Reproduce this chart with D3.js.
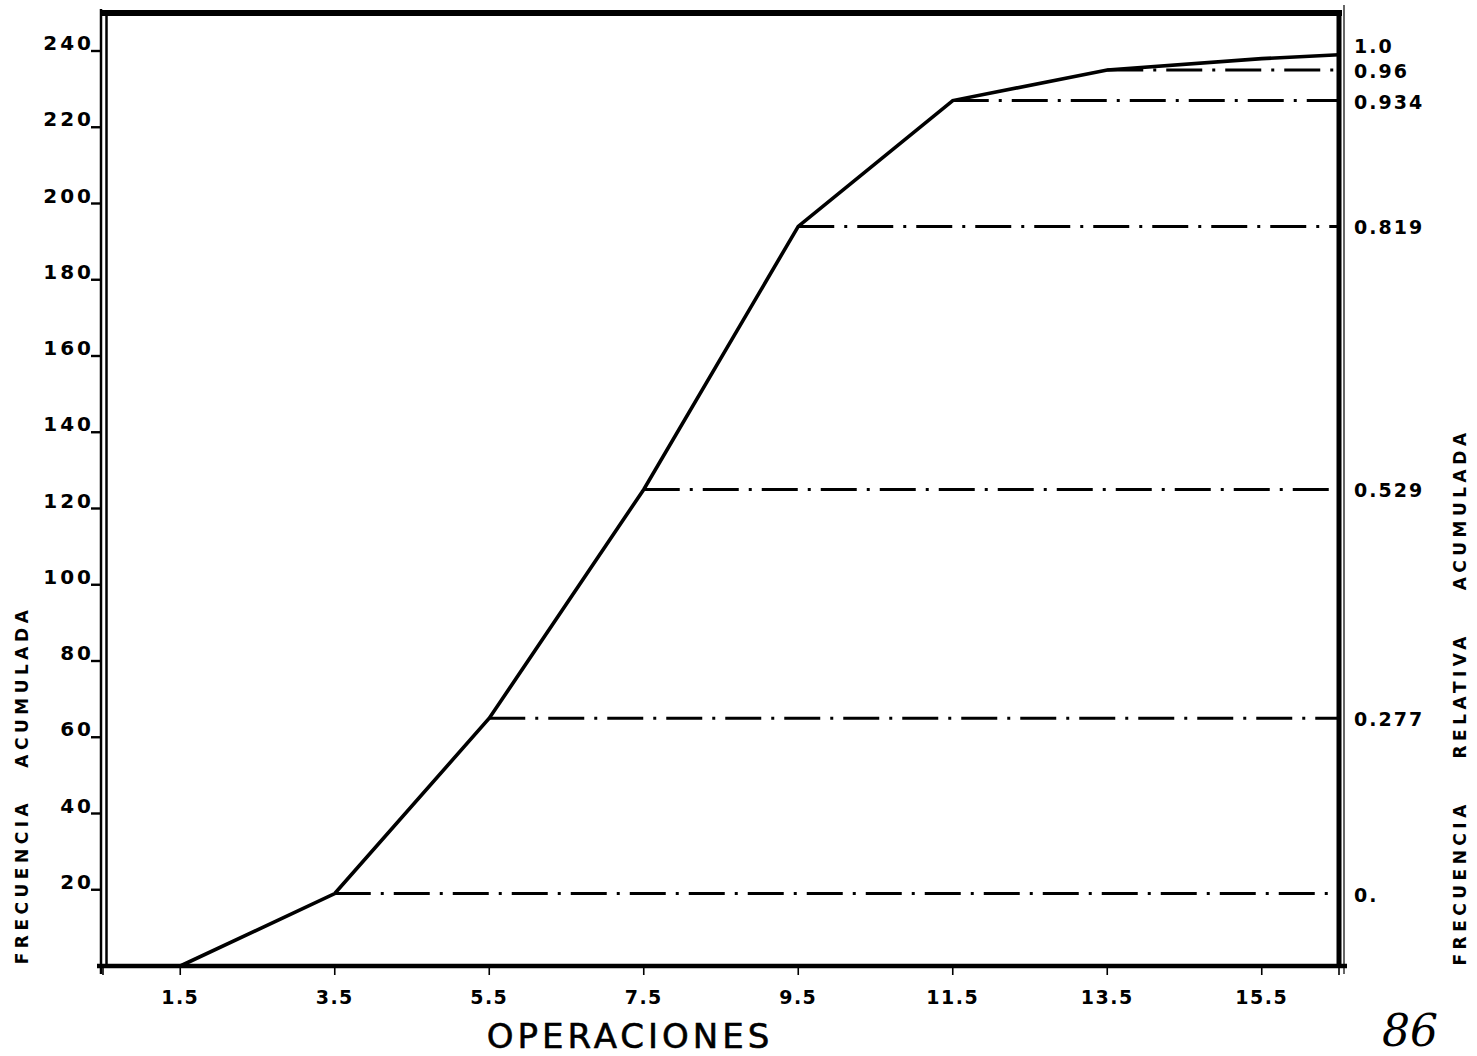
<!DOCTYPE html>
<html>
<head>
<meta charset="utf-8">
<script src="https://cdn.jsdelivr.net/npm/d3@7"></script>
<style>
  body { margin: 0; background: #fff; }
  text { font-family: "DejaVu Sans", sans-serif; fill: #000; }
</style>
</head>
<body>
<div id="viz"></div>
<script>
var operaciones = [1.5, 3.5, 5.5, 7.5, 9.5, 11.5, 13.5, 15.5, 16.5];
var frecAcum = [0, 19, 65, 125, 194, 227, 235, 238, 239];

var xTicks = [1.5, 3.5, 5.5, 7.5, 9.5, 11.5, 13.5, 15.5];
var yTicks = [20, 40, 60, 80, 100, 120, 140, 160, 180, 200, 220, 240];

// right axis: label and the left-axis level it sits on
var relLabels = ["0.", "0.277", "0.529", "0.819", "0.934", "0.96", "1.0"];
var relLevels = [19, 65, 125, 194, 227, 235, 239];
// points the dash-dot guides start from
var guideFrom = [3.5, 5.5, 7.5, 9.5, 11.5, 13.5];

var W = 1477, H = 1056;

var x = d3.scaleLinear().domain([0.5, 16.5]).range([103, 1339]);
var y = d3.scaleLinear().domain([0, 240]).range([966, 51]);

var svg = d3.select("#viz")
  .append("svg")
  .attr("width", W)
  .attr("height", H);

// (not "top": that name is taken by window.top)
var yTop = y(250), yBot = y(0), xLeft = x(0.5), xRight = x(16.5);

// dash-dot guide lines
svg.selectAll(".guide")
  .data(guideFrom)
  .enter()
  .append("line")
  .attr("class", "guide")
  .attr("x1", function(d) { return x(d); })
  .attr("x2", xRight)
  .attr("y1", function(d, i) { return y(relLevels[i]); })
  .attr("y2", function(d, i) { return y(relLevels[i]); })
  .style("stroke", "#000")
  .style("stroke-width", 3)
  .style("stroke-dasharray", "36,10,3,10");

// the ogive
var line = d3.line()
  .x(function(d) { return x(d[0]); })
  .y(function(d) { return y(d[1]); });

svg.append("path")
  .datum(d3.zip(operaciones, frecAcum))
  .attr("d", line)
  .style("fill", "none")
  .style("stroke", "#000")
  .style("stroke-width", 3.6)
  .style("stroke-linejoin", "miter");

// frame: heavy top/right/bottom, double rule on the left
svg.append("line").attr("x1", xLeft - 3).attr("x2", xRight + 3).attr("y1", yTop).attr("y2", yTop)
  .style("stroke", "#000").style("stroke-width", 6);
svg.append("line").attr("x1", xRight).attr("x2", xRight).attr("y1", yTop).attr("y2", yBot + 2)
  .style("stroke", "#000").style("stroke-width", 5);
svg.append("line").attr("x1", xLeft - 6).attr("x2", xRight + 8).attr("y1", yBot).attr("y2", yBot)
  .style("stroke", "#000").style("stroke-width", 4.5);
svg.append("line").attr("x1", xLeft - 2).attr("x2", xLeft - 2).attr("y1", yTop - 4).attr("y2", yBot + 8)
  .style("stroke", "#000").style("stroke-width", 2.5);
svg.append("line").attr("x1", xLeft + 3.5).attr("x2", xLeft + 3.5).attr("y1", yTop).attr("y2", yBot)
  .style("stroke", "#000").style("stroke-width", 2.5);
svg.append("line").attr("x1", xRight + 5).attr("x2", xRight + 5).attr("y1", yTop - 8).attr("y2", yBot + 8)
  .style("stroke", "#000").style("stroke-width", 1.2);

// bottom axis ticks + labels
svg.selectAll(".xtick")
  .data([0.5].concat(xTicks, [16.5]))
  .enter()
  .append("line")
  .attr("class", "xtick")
  .attr("x1", function(d) { return x(d); })
  .attr("x2", function(d) { return x(d); })
  .attr("y1", yBot)
  .attr("y2", yBot + 9)
  .style("stroke", "#000")
  .style("stroke-width", 1.6);

svg.selectAll(".xlab")
  .data(xTicks)
  .enter()
  .append("text")
  .attr("class", "xlab")
  .attr("x", function(d) { return x(d); })
  .attr("y", 1004)
  .attr("text-anchor", "middle")
  .style("font-size", "19px")
  .style("font-weight", "bold")
  .style("letter-spacing", "1.5px")
  .text(function(d) { return d3.format(".1f")(d); });

// left axis: underscore style ticks
svg.selectAll(".ytick")
  .data(yTicks)
  .enter()
  .append("line")
  .attr("class", "ytick")
  .attr("x1", xLeft - 12)
  .attr("x2", xLeft - 2)
  .attr("y1", function(d) { return y(d); })
  .attr("y2", function(d) { return y(d); })
  .style("stroke", "#000")
  .style("stroke-width", 2.4);

svg.selectAll(".ylab")
  .data(yTicks)
  .enter()
  .append("text")
  .attr("class", "ylab")
  .attr("x", xLeft - 9)
  .attr("y", function(d) { return y(d) - 1; })
  .attr("text-anchor", "end")
  .style("font-size", "20px")
  .style("font-weight", "bold")
  .style("letter-spacing", "3px")
  .text(function(d) { return d; });

// right axis labels
svg.selectAll(".rlab")
  .data(relLabels)
  .enter()
  .append("text")
  .attr("class", "rlab")
  .attr("x", 1354)
  .attr("y", function(d, i) {
    var v = y(relLevels[i]) + 8;
    if (d == "1.0") v -= 10;
    return v;
  })
  .style("font-size", "19px")
  .style("font-weight", "bold")
  .style("letter-spacing", "2px")
  .text(function(d) { return d; });

// axis titles
svg.append("text")
  .attr("transform", "translate(28,785) rotate(-90)")
  .attr("text-anchor", "middle")
  .style("font-size", "17px")
  .style("font-weight", "bold")
  .style("letter-spacing", "4.5px")
  .attr("xml:space", "preserve")
  .text("FRECUENCIA   ACUMULADA");

svg.append("text")
  .attr("transform", "translate(1466,697) rotate(-90)")
  .attr("text-anchor", "middle")
  .style("font-size", "17px")
  .style("font-weight", "bold")
  .style("letter-spacing", "4.5px")
  .attr("xml:space", "preserve")
  .text("FRECUENCIA    RELATIVA    ACUMULADA");

svg.append("text")
  .attr("x", 630)
  .attr("y", 1048)
  .attr("text-anchor", "middle")
  .style("font-size", "34px")
  .style("letter-spacing", "4px")
  .style("stroke", "#000")
  .style("stroke-width", 0.6)
  .text("OPERACIONES");

// page number, handwritten
svg.append("text")
  .attr("x", 1410)
  .attr("y", 1046)
  .attr("text-anchor", "middle")
  .style("font-family", "'DejaVu Serif', serif")
  .style("font-style", "italic")
  .style("font-size", "44px")
  .text("86");
</script>
</body>
</html>
